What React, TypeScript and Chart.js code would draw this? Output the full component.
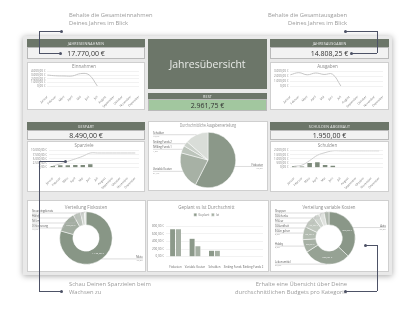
import React, { useEffect, useRef } from 'react';
import { Chart, registerables } from 'chart.js';
Chart.register(...registerables);

const FONT = "'Open Sans', 'Noto Sans', sans-serif";
Chart.defaults.font.family = FONT;

// ---------- data ----------
const months = ['Januar', 'Februar', 'März', 'April', 'Mai', 'Juni', 'Juli', 'August', 'September', 'Oktober', 'November', 'Dezember'];
const einnahmen = [3000, 2800, 2750, 2750, 3400, 3070, 0, null, null, null, null, null];
const ausgaben = [2300, 2740, 2300, 2670, 2370, 2428.25, 0, null, null, null, null, null];
const sparBetrag = [900, 1300, 1400, 1450, 1540, 1900, 0, 0, 0, 0, 0, 0];
const sparVerlauf = [900, 2200, 3600, 5050, 6590, 8490, 8490, 8490, 8490, 8490, 8490, 8490];
const schuldenBetrag = [150, 130, 530, 620, 310, 210, 0, 0, 0, 0, 0, 0];
const schuldenVerlauf = [150, 280, 810, 1430, 1740, 1950, 1950, 1950, 1950, 1950, 1950, 1950];

const verteilungLabels = ['Fixkosten', 'Variable Kosten', 'Sinking Funds 1', 'Sinking Funds 2', 'Schulden'];
const verteilungWerte = [730, 275, 55, 38, 172];

const fixLabels = ['Miete', 'Versicherung', 'Strom', 'Handy', 'Streamingdienste'];
const fixWerte = [1190, 190, 70, 35, 15];

const varLabels = ['Auto', 'Lebensmittel', 'Hobby', 'Essen gehen', 'Gesundheit', 'Friseur', 'Geschenke', 'Shoppen'];
const varWerte = [370, 290, 80, 80, 75, 40, 35, 30];

const barKategorien = ['Fixkosten', 'Variable Kosten', 'Schulden', 'Sinking Funds 1', 'Sinking Funds 2'];
const geplant = [733, 483, 167, 0, 0];
const ist = [733, 283, 167, 0, 0];

// ---------- helpers ----------
function euro(v: number) {
  const s = Math.abs(v).toFixed(2);
  let [i, d] = s.split('.');
  i = i.replace(/\B(?=(\d{3})+(?!\d))/g, '.');
  return (v < 0 ? '-' : '') + i + ',' + d + ' €';
}
const pct = (f: number) => (f * 100).toFixed(1).replace('.', ',') + '%';

const HEADER = '#6c7669';
const LINE = '#4d5266';

const pieLabelsPlugin = {
  id: 'pieLabels',
  afterDatasetsDraw(chart: any, _a: any, opts: any) {
    if (!opts || !opts.on) return;
    const ctx = chart.ctx;
    const meta = chart.getDatasetMeta(0);
    const values = chart.data.datasets[0].data as number[];
    const names = chart.data.labels as string[];
    const total = values.reduce((a, b) => a + b, 0);
    const items = meta.data.map((arc: any, i: number) => {
      const p = arc.getProps(['x', 'y', 'startAngle', 'endAngle', 'outerRadius', 'innerRadius'], true);
      const mid = (p.startAngle + p.endAngle) / 2;
      const c = Math.cos(mid), s = Math.sin(mid);
      const px = p.x + c * p.outerRadius, py = p.y + s * p.outerRadius;
      return { i, p, mid, c, s, px, py, ly: py, side: c >= -0.02 ? 1 : -1 };
    });
    [-1, 1].forEach(side => {
      const arr = items.filter((it: any) => it.side === side).sort((a: any, b: any) => a.ly - b.ly);
      let prev = -Infinity;
      arr.forEach((it: any) => { it.ly = Math.max(it.ly, prev + opts.gap, opts.minY); prev = it.ly; });
    });
    ctx.save();
    items.forEach((it: any) => {
      const f = values[it.i] / total;
      const x0 = it.side < 0 ? opts.leftX : opts.rightX;
      const xe = it.side < 0 ? it.px - 2 : it.px + 2;
      ctx.lineWidth = 0.5;
      ctx.strokeStyle = '#b8b8b8';
      ctx.beginPath();
      ctx.moveTo(x0, it.ly);
      ctx.lineTo(xe, it.ly);
      ctx.lineTo(it.px, it.py);
      ctx.stroke();
      ctx.textAlign = it.side < 0 ? 'left' : 'right';
      ctx.fillStyle = '#555';
      ctx.font = `2.6px ${FONT}`;
      ctx.textBaseline = 'bottom';
      ctx.fillText(names[it.i], x0, it.ly - 0.3);
      ctx.fillStyle = '#999';
      ctx.font = `2.3px ${FONT}`;
      ctx.textBaseline = 'top';
      ctx.fillText(pct(f), x0, it.ly + 0.4);
      if (opts.values && f >= 0.07) {
        const r = (it.p.outerRadius + it.p.innerRadius) / 2;
        ctx.fillStyle = '#f4f4f4';
        ctx.font = `2.5px ${FONT}`;
        ctx.textAlign = 'center';
        ctx.textBaseline = 'middle';
        ctx.fillText(euro(values[it.i]), it.p.x + it.c * r, it.p.y + it.s * r);
      }
    });
    ctx.restore();
  },
};

const titleOpt = (text: string, top: number, bottom: number) => ({
  display: true, text, color: '#8a8a8a', font: { size: 4.5, weight: 'normal' as any }, padding: { top, bottom },
});
const axisX = () => ({
  grid: { display: false },
  border: { display: false },
  ticks: { font: { size: 3 }, color: '#777', maxRotation: 45, minRotation: 45, padding: 1, autoSkip: false },
});
const axisY = (max: number, step: number) => ({
  min: 0, max,
  ticks: { stepSize: step, autoSkip: false, font: { size: 3 }, color: '#777', padding: 2, callback: (v: any) => euro(Number(v)) },
  grid: { color: '#e4e4e4', lineWidth: 0.5, drawTicks: false },
  border: { display: false },
});
const base = { animation: false, responsive: false, devicePixelRatio: 1 };

const lineChart = (title: string, values: any[], max: number, step: number) => ({
  type: 'line',
  data: { labels: months, datasets: [{ data: values, borderColor: '#c6c6c6', borderWidth: 1, pointRadius: 0, tension: 0.4 }] },
  options: {
    ...base,
    layout: { padding: { left: 1, right: 5, top: 0, bottom: 0 } },
    plugins: { legend: { display: false }, tooltip: { enabled: false }, title: titleOpt(title, 1.5, 1.5) },
    scales: { x: axisX(), y: axisY(max, step) },
  },
});

const comboChart = (title: string, bars: number[], line: number[], max: number, step: number) => ({
  type: 'bar',
  data: {
    labels: months,
    datasets: [
      { type: 'line', data: line, borderColor: '#cfcfcf', borderWidth: 1, pointRadius: 0, tension: 0.4, order: 0 },
      { type: 'bar', data: bars, backgroundColor: '#7e8b7c', barPercentage: 0.65, categoryPercentage: 0.9, order: 1 },
    ],
  },
  options: {
    ...base,
    layout: { padding: { left: 1, right: 5, top: 0, bottom: 0 } },
    plugins: { legend: { display: false }, tooltip: { enabled: false }, title: titleOpt(title, 1.5, 1.5) },
    scales: { x: axisX(), y: axisY(max, step) },
  },
});

const pieChart = (type: string, title: string, labels: string[], values: number[], colors: string[], pad: any, lab: any) => ({
  type,
  data: { labels, datasets: [{ data: values, backgroundColor: colors, borderColor: '#ffffff', borderWidth: 0.5 }] },
  options: {
    ...base,
    cutout: type === 'doughnut' ? '50%' : 0,
    layout: { padding: pad },
    plugins: {
      legend: { display: false }, tooltip: { enabled: false },
      title: titleOpt(title, lab.tTop, lab.tBottom),
      pieLabels: lab,
    },
  },
  plugins: [pieLabelsPlugin],
});

const barChart = () => ({
  type: 'bar',
  data: {
    labels: barKategorien,
    datasets: [
      { label: 'Geplant', data: geplant, backgroundColor: '#8c998a', borderColor: '#fff', borderWidth: 0.4, barPercentage: 1, categoryPercentage: 0.6 },
      { label: 'Ist', data: ist, backgroundColor: '#a5afa3', borderColor: '#fff', borderWidth: 0.4, barPercentage: 1, categoryPercentage: 0.6 },
    ],
  },
  options: {
    ...base,
    layout: { padding: { left: 2, right: 5, top: 0, bottom: 1 } },
    plugins: {
      tooltip: { enabled: false },
      title: titleOpt('Geplant vs Ist Durchschnitt', 4.3, 0.5),
      legend: { display: true, labels: { boxWidth: 3, boxHeight: 3, font: { size: 3 }, color: '#777', padding: 2 } },
    },
    scales: {
      x: { grid: { display: false }, border: { display: false }, ticks: { font: { size: 2.8 }, color: '#666', maxRotation: 0, autoSkip: false, padding: 1 } },
      y: axisY(800, 200),
    },
  },
});

// ---------- components ----------
function ChartCanvas({ x, y, w, h, make }: any) {
  const ref = useRef<HTMLCanvasElement>(null);
  useEffect(() => {
    const chart = new Chart(ref.current as HTMLCanvasElement, make());
    return () => chart.destroy();
  }, []);
  return <canvas ref={ref} width={w} height={h} style={{ position: 'absolute', left: x, top: y, width: w, height: h }} />;
}

const Rect = ({ x, y, w, h, bg, border, children, style }: any) => (
  <div style={{ position: 'absolute', left: x, top: y, width: w, height: h, background: bg, border, boxSizing: 'border-box', display: 'flex', alignItems: 'center', justifyContent: 'center', ...style }}>{children}</div>
);
const Header = ({ x, y, w, h, text }: any) => (
  <Rect x={x} y={y} w={w} h={h} bg={HEADER}><span style={{ color: '#f0f0f0', fontSize: 3.6, letterSpacing: 0.2 }}>{text}</span></Rect>
);
const Value = ({ x, y, w, h, text, bg }: any) => (
  <Rect x={x} y={y} w={w} h={h} bg={bg || '#f2f2f2'} border="1px solid #b9b9b9"><span style={{ color: '#333', fontSize: 7 }}>{text}</span></Rect>
);
const Card = ({ x, y, w, h }: any) => <Rect x={x} y={y} w={w} h={h} bg="#fff" border="1px solid #cfcfcf" />;

const HLine = ({ x1, x2, y }: any) => <div style={{ position: 'absolute', left: Math.min(x1, x2), top: y - 0.5, width: Math.abs(x2 - x1), height: 1, background: LINE }} />;
const VLine = ({ x, y1, y2 }: any) => <div style={{ position: 'absolute', left: x - 0.5, top: Math.min(y1, y2), width: 1, height: Math.abs(y2 - y1), background: LINE }} />;
const Dot = ({ x, y }: any) => <div style={{ position: 'absolute', left: x - 1.5, top: y - 1.5, width: 3, height: 3, borderRadius: '50%', background: LINE }} />;
const Note = ({ x, y, lines, align }: any) => (
  <div style={{ position: 'absolute', left: align === 'right' ? undefined : x, right: align === 'right' ? 416 - x : undefined, top: y, fontSize: 5.8, lineHeight: '7.5px', color: '#9a9a9a', textAlign: align || 'left', whiteSpace: 'nowrap' }}>
    {lines.map((l: string, i: number) => <div key={i}>{l}</div>)}
  </div>
);

export default function App() {
  useEffect(() => { document.body.style.margin = '0'; }, []);
  return (
    <div style={{ position: 'fixed', left: 0, top: 0, width: 416, height: 312, background: '#fff', overflow: 'hidden', fontFamily: FONT, willChange: 'transform', WebkitFontSmoothing: 'antialiased' as any }}>
      <Note x={69} y={12} lines={['Behalte die Gesamteinnahmen', 'Deines Jahres im Blick']} />
      <Note x={347} y={12} align="right" lines={['Behalte die Gesamtausgaben', 'Deines Jahres im Blick']} />
      <Note x={69} y={281} lines={['Schau Deinen Sparzielen beim', 'Wachsen zu']} />
      <Note x={347} y={281} align="right" lines={['Erhalte eine Übersicht über Deine', 'durchschnittlichen Budgets pro Kategorie']} />

      <div style={{ position: 'absolute', left: 23, top: 36, width: 369, height: 239, background: '#e9e9e9', boxShadow: '0 1px 6px rgba(0,0,0,0.35)' }} />

      {/* row 1 */}
      <Header x={27} y={39} w={118} h={8} text="JAHRESEINNAHMEN" />
      <Value x={27} y={47} w={118} h={12} text="17.770,00 €" />
      <Card x={27} y={62} w={118} h={48} />
      <ChartCanvas x={28} y={63} w={116} h={46} make={() => lineChart('Einnahmen', einnahmen, 4000, 1000)} />

      <Rect x={148} y={39} w={119} h={50} bg={HEADER}><span style={{ color: '#e9ebe8', fontSize: 10.5 }}>Jahresübersicht</span></Rect>
      <Header x={148} y={93} w={119} h={6} text="REST" />
      <Value x={148} y={99} w={119} h={12} text="2.961,75 €" bg="#a2c79f" />

      <Header x={270} y={39} w={119} h={8} text="JAHRESAUSGABEN" />
      <Value x={270} y={47} w={119} h={12} text="14.808,25 €" />
      <Card x={270} y={62} w={119} h={48} />
      <ChartCanvas x={271} y={63} w={117} h={46} make={() => lineChart('Ausgaben', ausgaben, 3000, 1000)} />

      {/* row 2 */}
      <Header x={27} y={122} w={118} h={8} text="GESPART" />
      <Value x={27} y={130} w={118} h={10} text="8.490,00 €" />
      <Card x={27} y={141} w={118} h={51} />
      <ChartCanvas x={28} y={142} w={116} h={49} make={() => comboChart('Sparziele', sparBetrag, sparVerlauf, 10000, 2500)} />

      <Card x={148} y={121} w={120} h={70} />
      <ChartCanvas x={149} y={122} w={118} h={68} make={() => pieChart('pie', 'Durchschnittliche Ausgabenverteilung', verteilungLabels, verteilungWerte,
        ['#8b9889', '#a7b1a5', '#bcc4bb', '#cbd1ca', '#d9ddd8'],
        { left: 31, right: 31, top: 0, bottom: 2 },
        { on: true, leftX: 4, rightX: 114, minY: 12, gap: 5, values: false, tTop: 1.3, tBottom: 3.3 })} />

      <Header x={270} y={122} w={119} h={8} text="SCHULDEN ABGEBAUT" />
      <Value x={270} y={130} w={119} h={10} text="1.950,00 €" />
      <Card x={270} y={141} w={119} h={51} />
      <ChartCanvas x={271} y={142} w={117} h={49} make={() => comboChart('Schulden', schuldenBetrag, schuldenVerlauf, 2000, 500)} />

      {/* row 3 */}
      <Card x={27} y={200} w={119} h={72} />
      <ChartCanvas x={28} y={201} w={117} h={70} make={() => pieChart('doughnut', 'Verteilung Fixkosten', fixLabels, fixWerte,
        ['#889686', '#a3ada1', '#bcc3bb', '#ced3cd', '#e0e3df'],
        { left: 31.5, right: 32.5, top: 0, bottom: 6.5 },
        { on: true, leftX: 4, rightX: 115, minY: 12, gap: 5, values: true, tTop: 4.3, tBottom: 0.8 })} />

      <Card x={147} y={200} w={122} h={72} />
      <ChartCanvas x={148} y={201} w={120} h={70} make={barChart} />

      <Card x={270} y={200} w={119} h={72} />
      <ChartCanvas x={271} y={201} w={117} h={70} make={() => pieChart('doughnut', 'Verteilung variable Kosten', varLabels, varWerte,
        ['#8a9788', '#96a294', '#a6b0a4', '#b3bcb1', '#c1c8bf', '#d0d5cf', '#dfe2de', '#b0b8ae'],
        { left: 31.5, right: 32.5, top: 0, bottom: 6.5 },
        { on: true, leftX: 4, rightX: 115, minY: 12, gap: 5, values: true, tTop: 4.3, tBottom: 0.8 })} />

      {/* leader lines */}
      <VLine x={39} y1={31} y2={53} />
      <HLine x1={39} x2={61} y={31} />
      <HLine x1={39} x2={60} y={53} />
      <Dot x={61} y={31} />
      <Dot x={60} y={53} />

      <VLine x={377} y1={31} y2={53} />
      <HLine x1={345} x2={377} y={31} />
      <HLine x1={351} x2={377} y={53} />
      <Dot x={345} y={31} />
      <Dot x={351} y={53} />

      <VLine x={39} y1={161} y2={291} />
      <HLine x1={39} x2={65} y={161} />
      <HLine x1={39} x2={61} y={291} />
      <Dot x={65} y={161} />
      <Dot x={61} y={291} />

      <VLine x={377} y1={245} y2={291} />
      <HLine x1={365} x2={377} y={245} />
      <HLine x1={345} x2={377} y={291} />
      <Dot x={365} y={245} />
      <Dot x={345} y={291} />
    </div>
  );
}
